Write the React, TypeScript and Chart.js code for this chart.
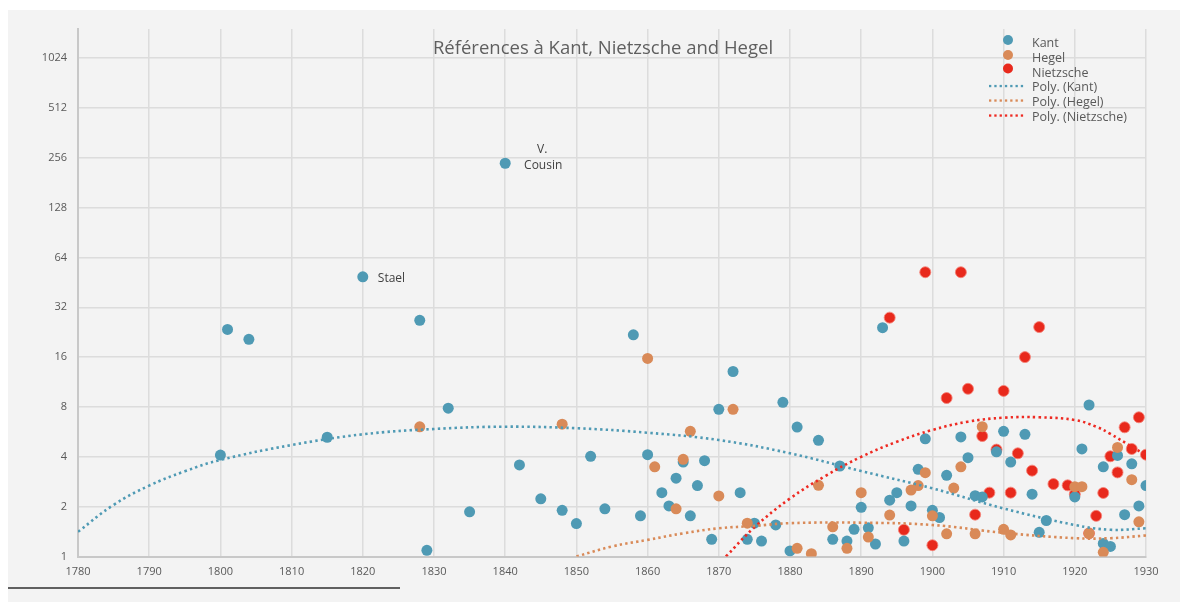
import React, { useEffect, useRef } from "react";
import { Chart, registerables } from "chart.js";

Chart.register(...registerables);

const chartTitle = "Références à Kant, Nietzsche and Hegel";
const seriesNames = ["Kant", "Hegel", "Nietzsche"];
const trendNames = ["Poly. (Kant)", "Poly. (Hegel)", "Poly. (Nietzsche)"];
const yTickValues = [1, 2, 4, 8, 16, 32, 64, 128, 256, 512, 1024];

const kantYears = [1800, 1801, 1804, 1815, 1820, 1828, 1829, 1832, 1835, 1840, 1842, 1845, 1848, 1850, 1852, 1854, 1858, 1859, 1860, 1862, 1863, 1864, 1865, 1866, 1867, 1868, 1869, 1870, 1872, 1873, 1874, 1875, 1876, 1878, 1879, 1880, 1881, 1884, 1886, 1887, 1888, 1889, 1890, 1891, 1892, 1893, 1894, 1895, 1896, 1897, 1898, 1899, 1900, 1901, 1902, 1904, 1905, 1906, 1907, 1909, 1910, 1911, 1913, 1914, 1915, 1916, 1920, 1921, 1922, 1924, 1924, 1925, 1926, 1927, 1928, 1929, 1930];
const kantValues = [4.1, 23.5, 20.5, 5.25, 48.9, 26.7, 1.09, 7.86, 1.86, 237, 3.57, 2.23, 1.9, 1.58, 4.03, 1.94, 21.8, 1.76, 4.12, 2.43, 2.02, 2.97, 3.72, 1.76, 2.68, 3.79, 1.27, 7.74, 13.1, 2.43, 1.27, 1.59, 1.24, 1.55, 8.53, 1.08, 6.05, 5.03, 1.27, 3.52, 1.24, 1.46, 1.98, 1.49, 1.19, 24.1, 2.19, 2.43, 1.24, 2.02, 3.36, 5.14, 1.9, 1.72, 3.09, 5.27, 3.95, 2.33, 2.29, 4.29, 5.7, 3.72, 5.47, 2.38, 1.4, 1.65, 2.29, 4.46, 8.22, 3.48, 1.2, 1.15, 4.08, 1.79, 3.63, 2.02, 2.68];

const hegelYears = [1828, 1848, 1860, 1861, 1864, 1865, 1866, 1870, 1872, 1874, 1881, 1883, 1884, 1886, 1888, 1890, 1891, 1894, 1897, 1898, 1899, 1900, 1902, 1903, 1904, 1906, 1907, 1910, 1911, 1920, 1921, 1922, 1924, 1926, 1928, 1929];
const hegelValues = [6.07, 6.3, 15.7, 3.48, 1.94, 3.86, 5.7, 2.32, 7.74, 1.59, 1.12, 1.04, 2.69, 1.51, 1.12, 2.43, 1.31, 1.78, 2.52, 2.68, 3.21, 1.76, 1.37, 2.59, 3.48, 1.37, 6.08, 1.46, 1.35, 2.64, 2.64, 1.38, 1.06, 4.56, 2.91, 1.62];

const nietzscheYears = [1894, 1896, 1899, 1900, 1902, 1904, 1905, 1906, 1907, 1908, 1909, 1910, 1911, 1912, 1913, 1914, 1915, 1917, 1919, 1920, 1922, 1923, 1924, 1925, 1926, 1927, 1928, 1929, 1930];
const nietzscheValues = [27.7, 1.45, 52.1, 1.17, 9.06, 52.1, 10.3, 1.79, 5.34, 2.43, 4.42, 10.0, 2.43, 4.2, 16.0, 3.3, 24.3, 2.74, 2.69, 2.38, 1.38, 1.76, 2.42, 4.03, 3.22, 6.03, 4.46, 6.93, 4.12];

const polyKantYears = [1780, 1785, 1790, 1795, 1800, 1810, 1820, 1830, 1840, 1850, 1860, 1870, 1880, 1890, 1900, 1910, 1920, 1925, 1930];
const polyKantValues = [1.41, 2.05, 2.68, 3.27, 3.83, 4.71, 5.47, 5.89, 6.08, 5.95, 5.59, 5.05, 4.2, 3.28, 2.58, 1.95, 1.55, 1.45, 1.48];
const polyHegelYears = [1850, 1855, 1860, 1865, 1870, 1875, 1880, 1890, 1900, 1910, 1920, 1925, 1930];
const polyHegelValues = [1.0, 1.15, 1.26, 1.38, 1.48, 1.53, 1.59, 1.6, 1.55, 1.39, 1.29, 1.29, 1.34];
const polyNietzscheYears = [1871, 1875, 1880, 1885, 1890, 1895, 1900, 1905, 1910, 1915, 1920, 1923, 1925, 1928, 1930];
const polyNietzscheValues = [1.0, 1.5, 2.24, 3.07, 4.0, 4.93, 5.81, 6.52, 6.89, 6.93, 6.67, 6.08, 5.5, 4.6, 4.1];

const noteYears = [1820, 1840];
const noteValues = [48.9, 237];
const noteTexts = [["Stael"], ["V.", "Cousin"]];

const BLUE = "#4f9ab4";
const ORANGE = "#d98a58";
const RED = "#e8291c";
const RED_LINE = "#ee2a22";
const TEXT = "#595959";
const FONT = "'Open Sans', 'Noto Sans', sans-serif";

const pts = (xs: number[], ys: number[]) => xs.map((x, i) => ({ x, y: ys[i] }));

const overlayPlugin = {
  id: "overlay",
  afterDatasetsDraw(chart: any) {
    const ctx = chart.ctx as CanvasRenderingContext2D;
    const xs = chart.scales.x;
    const ys = chart.scales.y;
    ctx.save();
    // title
    ctx.fillStyle = "#5f5f5f";
    ctx.font = `18.5px ${FONT}`;
    ctx.textAlign = "center";
    ctx.textBaseline = "middle";
    ctx.fillText(chartTitle, 595, 39);

    // annotations
    ctx.font = `12px ${FONT}`;
    ctx.fillStyle = "#404040";
    noteTexts.forEach((lines, i) => {
      const px = xs.getPixelForValue(noteYears[i]);
      const py = ys.getPixelForValue(noteValues[i]);
      if (lines.length === 1) {
        ctx.textAlign = "left";
        ctx.fillText(lines[0], px + 15, py + 2);
      } else {
        ctx.textAlign = "center";
        ctx.fillText(lines[0], px + 37, py - 14);
        ctx.fillText(lines[1], px + 38, py + 2);
      }
    });

    // legend
    const markerColors = [BLUE, ORANGE, RED];
    const lineColors = [BLUE, ORANGE, RED_LINE];
    ctx.font = `12.5px ${FONT}`;
    ctx.textAlign = "left";
    ctx.fillStyle = TEXT;
    const markerY = [30, 45, 58.5];
    const textY = [33.5, 48.5, 63.5, 77.5, 92, 107];
    seriesNames.forEach((name, i) => {
      ctx.beginPath();
      ctx.fillStyle = markerColors[i];
      ctx.arc(1000, markerY[i], 5, 0, Math.PI * 2);
      ctx.fill();
      ctx.fillStyle = TEXT;
      ctx.fillText(name, 1024, textY[i]);
    });
    trendNames.forEach((name, i) => {
      const ly = textY[i + 3] - 1.5;
      ctx.fillStyle = lineColors[i];
      for (let k = 0; k < 7; k++) {
        ctx.fillRect(981 + k * 5.3, ly - 1.1, 2.3, 2.3);
      }
      ctx.fillStyle = TEXT;
      ctx.fillText(name, 1024, textY[i + 3]);
    });
    ctx.restore();
  },
};

export default function App() {
  const ref = useRef<HTMLCanvasElement | null>(null);
  useEffect(() => {
    document.body.style.overflow = "hidden";
    const canvas = ref.current;
    if (!canvas) return;
    const scatterBase = { pointRadius: 5.5, pointHoverRadius: 5.5, showLine: false };
    const lineBase = {
      showLine: true,
      pointRadius: 0,
      borderWidth: 2.6,
      borderDash: [2.4, 3.2],
      tension: 0.4,
      fill: false,
      order: 0,
    };
    const chart = new Chart(canvas, {
      type: "scatter",
      data: {
        datasets: [
          { ...scatterBase, label: seriesNames[0], data: pts(kantYears, kantValues), backgroundColor: BLUE, borderColor: BLUE, borderWidth: 0, order: 2 },
          { ...scatterBase, label: seriesNames[1], data: pts(hegelYears, hegelValues), backgroundColor: ORANGE, borderColor: ORANGE, borderWidth: 0, order: 1 },
          { ...scatterBase, label: seriesNames[2], data: pts(nietzscheYears, nietzscheValues), backgroundColor: RED, borderColor: "rgba(245,130,120,0.85)", borderWidth: 1, order: 3 },
          { ...lineBase, label: trendNames[0], data: pts(polyKantYears, polyKantValues), borderColor: BLUE },
          { ...lineBase, label: trendNames[1], data: pts(polyHegelYears, polyHegelValues), borderColor: ORANGE },
          { ...lineBase, label: trendNames[2], data: pts(polyNietzscheYears, polyNietzscheValues), borderColor: RED_LINE },
        ] as any,
      },
      options: {
        responsive: false,
        animation: false,
        events: [],
        layout: { padding: { top: 19, right: 42, left: 0, bottom: 0 } },
        plugins: {
          legend: { display: false },
          tooltip: { enabled: false },
          title: { display: false },
        },
        scales: {
          x: {
            type: "linear",
            min: 1780,
            max: 1930,
            ticks: {
              stepSize: 10,
              color: TEXT,
              font: { family: FONT, size: 11 },
              padding: 9,
              callback: (v: any) => String(v),
            },
            grid: { color: "#dcdcdc", lineWidth: 1.5, drawTicks: false },
            border: { color: "#c8c8c8", width: 2 },
            afterFit: (s: any) => {
              s.height = 47.5;
            },
          },
          y: {
            type: "logarithmic",
            min: 1,
            max: 1533,
            afterBuildTicks: (s: any) => {
              s.ticks = yTickValues.map((v) => ({ value: v }));
            },
            ticks: {
              color: TEXT,
              font: { family: FONT, size: 11 },
              padding: 11,
              autoSkip: false,
              callback: (v: any) => String(v),
            },
            grid: { color: "#dcdcdc", lineWidth: 1.5, drawTicks: false },
            border: { color: "#c8c8c8", width: 2 },
            afterFit: (s: any) => {
              s.width = 70;
            },
          },
        },
      } as any,
      plugins: [overlayPlugin],
    });
    return () => chart.destroy();
  }, []);

  return (
    <div style={{ position: "relative", top: 2, width: 1180, height: 594, background: "#f3f3f3" }}>
      <canvas ref={ref} width={1180} height={594} style={{ display: "block" }} />
      <div style={{ position: "absolute", left: -8, top: 577, width: 400, height: 2, background: "#606060" }} />
    </div>
  );
}
